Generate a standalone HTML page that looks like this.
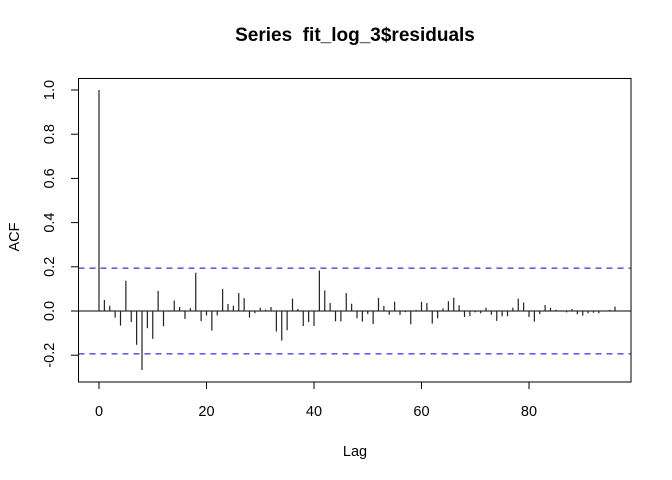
<!DOCTYPE html>
<html><head><meta charset="utf-8"><style>
html,body{margin:0;padding:0;background:#fff;}
svg{display:block;font-family:"Liberation Sans",Arial,sans-serif;}
</style></head><body>
<svg id="chart" width="672" height="480" viewBox="0 0 672 480" xmlns="http://www.w3.org/2000/svg">
<text x="355" y="41" text-anchor="middle" font-size="19" font-weight="bold" style="white-space:pre">Series  fit_log_3$residuals</text>
<text x="355" y="456" text-anchor="middle" font-size="14.5">Lag</text>
<text transform="translate(19,237) rotate(-90)" text-anchor="middle" font-size="14.5">ACF</text>
<rect x="78.5" y="78.5" width="552.5" height="303.5" fill="none" stroke="#000" stroke-width="1"/>
<g id="xticks"></g><g id="yticks"></g><g id="bars"></g><g id="ci"></g>
</svg>
<script>
const acfValues=[1.0,0.05,0.024,-0.03,-0.066,0.137,-0.05,-0.153,-0.267,-0.078,-0.126,0.091,-0.069,-0.003,0.048,0.018,-0.036,0.013,0.173,-0.046,-0.02,-0.089,-0.02,0.1,0.032,0.024,0.081,0.058,-0.03,-0.01,0.015,0.006,0.018,-0.093,-0.134,-0.087,0.056,0.009,-0.068,-0.05,-0.068,0.183,0.093,0.036,-0.047,-0.047,0.081,0.033,-0.033,-0.048,-0.014,-0.059,0.059,0.023,-0.017,0.042,-0.018,-0.005,-0.06,0.005,0.042,0.036,-0.057,-0.033,0.012,0.044,0.06,0.026,-0.027,-0.023,-0.006,-0.01,0.015,-0.017,-0.045,-0.024,-0.024,0.015,0.056,0.038,-0.027,-0.048,-0.014,0.027,0.015,0.006,0.003,-0.006,0.009,-0.015,-0.021,-0.01,-0.008,-0.01,0.002,0.005,0.02];
const ciLimits=[0.194,-0.194];
const xTickValues=[0,20,40,60,80];
const yTickValues=[-0.2,0.0,0.2,0.4,0.6,0.8,1.0];
const yTickLabels=["-0.2","0.0","0.2","0.4","0.6","0.8","1.0"];
const NS="http://www.w3.org/2000/svg";
function xs(l){return 99+l*5.375;}
function ys(v){return 311-221*v;}
function mk(tag,attrs,parent){const e=document.createElementNS(NS,tag);for(const k in attrs)e.setAttribute(k,attrs[k]);parent.appendChild(e);return e;}
const bars=document.getElementById('bars');
const zl=mk('line',{x1:78.5,x2:631,y1:ys(0),y2:ys(0),stroke:'#000','stroke-width':1},bars);


acfValues.forEach((v,i)=>{
 const b=mk('line',{x1:xs(i),x2:xs(i),y1:ys(0),y2:ys(v),stroke:'#222','stroke-width':1.2},bars);
 
 
});
const ci=document.getElementById('ci');
ciLimits.forEach((c,i)=>{
 const l=mk('line',{x1:78.5,x2:631,y1:ys(c),y2:ys(c),stroke:'#0000dd','stroke-width':1.1,'stroke-dasharray':'6,5'},ci);
 
 
});
const xt=document.getElementById('xticks');
xTickValues.forEach(t=>{
 const l=mk('line',{x1:xs(t),x2:xs(t),y1:382,y2:389,stroke:'#000'},xt);
 
 
 const tx=mk('text',{x:xs(t),y:416,'text-anchor':'middle','font-size':14.5},xt);
 tx.textContent=String(t);
 
 
});
mk('line',{x1:xs(0),x2:xs(80),y1:382,y2:382,stroke:'#000'},xt);
const yt=document.getElementById('yticks');
yTickValues.forEach((t,i)=>{
 const l=mk('line',{x1:71,x2:78.5,y1:ys(t),y2:ys(t),stroke:'#000'},yt);
 
 
 const tx=mk('text',{transform:'translate(54,'+ys(t)+') rotate(-90)','text-anchor':'middle','font-size':14.5},yt);
 tx.textContent=yTickLabels[i];
 
 
});
</script>
</body></html>
